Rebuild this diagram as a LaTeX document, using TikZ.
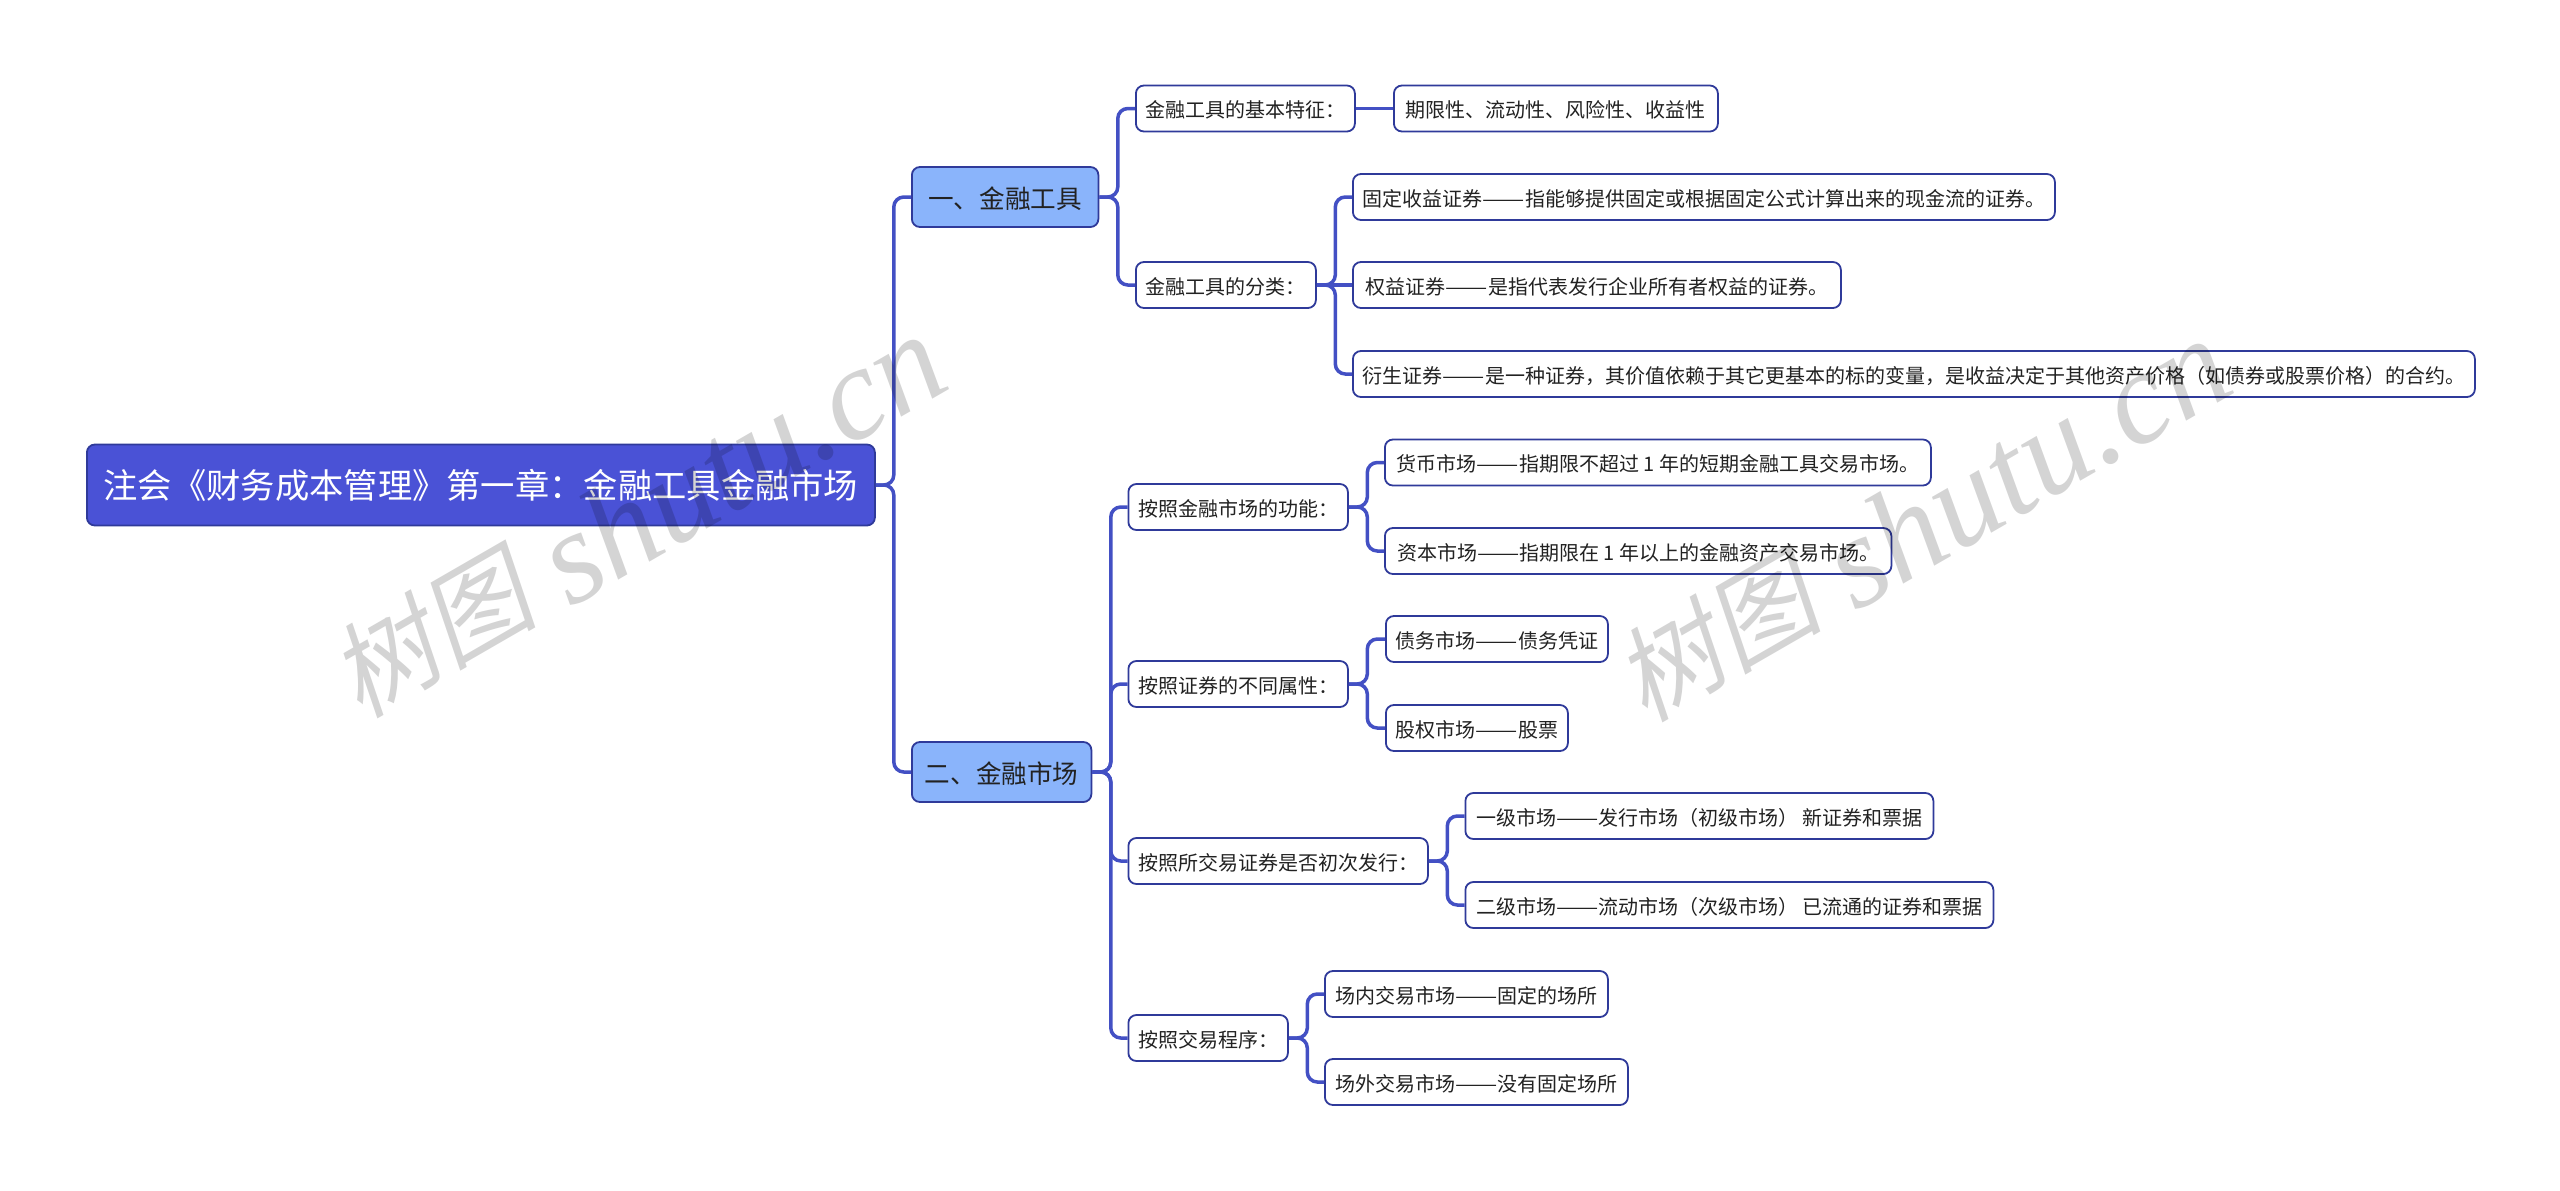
\documentclass[tikz,border=0pt]{standalone}
\usepackage{fontspec}
\setmainfont{Noto Sans CJK SC}
\newfontfamily\markcjk[FakeSlant=0.2]{Noto Sans CJK SC}
\newfontfamily\marklatin{Liberation Serif}
\newfontfamily\dashfont[FakeStretch=1.26]{Noto Sans CJK SC}
\newcommand{\dashes}{{\dashfont ——}}
\newcommand{\marktext}{\raisebox{8pt}{\markcjk\fontsize{104}{120}\selectfont 树图} {\marklatin\itshape shutu.cn}}
\definecolor{rootblue}{HTML}{4A52D6}
\definecolor{topicblue}{HTML}{8AB4FB}
\definecolor{linkblue}{HTML}{4350C4}
\definecolor{edgeblue}{HTML}{2F3A9A}
\definecolor{inkgray}{HTML}{222222}
\tikzset{
  rootnode/.style={draw=edgeblue,line width=1.8pt,fill=rootblue,text=white,rounded corners=8pt,anchor=west,
    minimum height=81pt,inner xsep=6pt,inner ysep=0pt,font=\fontsize{34.3}{40}\selectfont},
  topicnode/.style={draw=edgeblue,line width=1.8pt,fill=topicblue,text=inkgray,rounded corners=8pt,anchor=west,
    minimum height=60pt,inner xsep=6pt,inner ysep=0pt,text height=26pt,text depth=3pt,font=\fontsize{25.6}{31}\selectfont},
  itemnode/.style={draw=edgeblue,line width=1.8pt,fill=white,text=inkgray,rounded corners=8pt,anchor=west,
    minimum height=46pt,inner xsep=6pt,inner ysep=0pt,text height=20pt,text depth=2pt,font=\fontsize{20}{24}\selectfont},
  link/.style={draw=linkblue,line width=3.5pt,rounded corners=10pt},
  markstyle/.style={text=black,text opacity=0.17,rotate=30,inner sep=0pt,font=\fontsize{132}{140}\selectfont}
}
\begin{document}
\begin{tikzpicture}[x=1pt,y=-1pt]
      \path[fill=white,use as bounding box] (0,0) rectangle (2560,1191);

      \node[rootnode,minimum width=788pt] (0) at (86,485) {注会《财务成本管理》第一章：金融工具金融市场};
      \node[topicnode,minimum width=186.5pt] (1) at (911,197) {一、金融工具\hspace{5pt}};
      \node[topicnode,minimum width=179.5pt] (2) at (911,772) {二、金融市场};

      \node[itemnode,minimum width=219pt] (11) at (1135,108.5) {金融工具的基本特征：};
      \node[itemnode,minimum width=180pt] (12) at (1135,285) {金融工具的分类：};
      \node[itemnode,minimum width=324pt] (111) at (1393,108.5) {期限性、流动性、风险性、收益性};
      \node[itemnode,minimum width=702pt] (121) at (1352,197) {固定收益证券\dashes 指能够提供固定或根据固定公式计算出来的现金流的证券。};
      \node[itemnode,minimum width=488pt] (122) at (1352,285) {权益证券\dashes 是指代表发行企业所有者权益的证券。};
      \node[itemnode,minimum width=1122pt] (123) at (1352,374) {衍生证券\dashes 是一种证券，其价值依赖于其它更基本的标的变量，是收益决定于其他资产价格（如债券或股票价格）的合约。};

      \node[itemnode,minimum width=219.5pt] (21) at (1127.5,507) {按照金融市场的功能：};
      \node[itemnode,minimum width=219.5pt] (22) at (1127.5,684) {按照证券的不同属性：};
      \node[itemnode,minimum width=299.5pt] (23) at (1127.5,861) {按照所交易证券是否初次发行：};
      \node[itemnode,minimum width=159.5pt] (24) at (1127.5,1038) {按照交易程序：};
      \node[itemnode,minimum width=546pt] (211) at (1384,462.5) {货币市场\dashes 指期限不超过 1 年的短期金融工具交易市场。};
      \node[itemnode,minimum width=506.5pt] (212) at (1384,551) {资本市场\dashes 指期限在 1 年以上的金融资产交易市场。};
      \node[itemnode,minimum width=222pt] (221) at (1385,639) {债务市场\dashes 债务凭证};
      \node[itemnode,minimum width=182pt] (222) at (1385,728) {股权市场\dashes 股票};
      \node[itemnode,minimum width=468pt] (231) at (1464.5,816) {一级市场\dashes 发行市场（初级市场） 新证券和票据};
      \node[itemnode,minimum width=528pt] (232) at (1464.5,905) {二级市场\dashes 流动市场（次级市场） 已流通的证券和票据};
      \node[itemnode,minimum width=283pt] (241) at (1324,994) {场内交易市场\dashes 固定的场所};
      \node[itemnode,minimum width=303pt] (242) at (1324,1082) {场外交易市场\dashes 没有固定场所};

      \draw[link] (0.east) -- ++(18,0) |- (1.west);
      \draw[link] (0.east) -- ++(18,0) |- (2.west);

      \draw[link] (1.east) -- ++(18.5,0) |- (11.west);
      \draw[link] (1.east) -- ++(18.5,0) |- (12.west);
      \draw[link] (11.east) -- (111.west);
      \draw[link] (12.east) -- ++(18.5,0) |- (121.west);
      \draw[link] (12.east) -- (122.west);
      \draw[link] (12.east) -- ++(18.5,0) |- (123.west);

      \draw[link] (2.east) -- ++(18.5,0) |- (21.west);
      \draw[link] (2.east) -- ++(18.5,0) |- (22.west);
      \draw[link] (2.east) -- ++(18.5,0) |- (23.west);
      \draw[link] (2.east) -- ++(18.5,0) |- (24.west);
      \draw[link] (21.east) -- ++(18.5,0) |- (211.west);
      \draw[link] (21.east) -- ++(18.5,0) |- (212.west);
      \draw[link] (22.east) -- ++(18.5,0) |- (221.west);
      \draw[link] (22.east) -- ++(18.5,0) |- (222.west);
      \draw[link] (23.east) -- ++(18.5,0) |- (231.west);
      \draw[link] (23.east) -- ++(18.5,0) |- (232.west);
      \draw[link] (24.east) -- ++(18.5,0) |- (241.west);
      \draw[link] (24.east) -- ++(18.5,0) |- (242.west);

      \node[markstyle] (mark1) at (636,516) {\marktext};
      \node[markstyle] (mark2) at (1921,520) {\marktext};
\end{tikzpicture}
\end{document}
